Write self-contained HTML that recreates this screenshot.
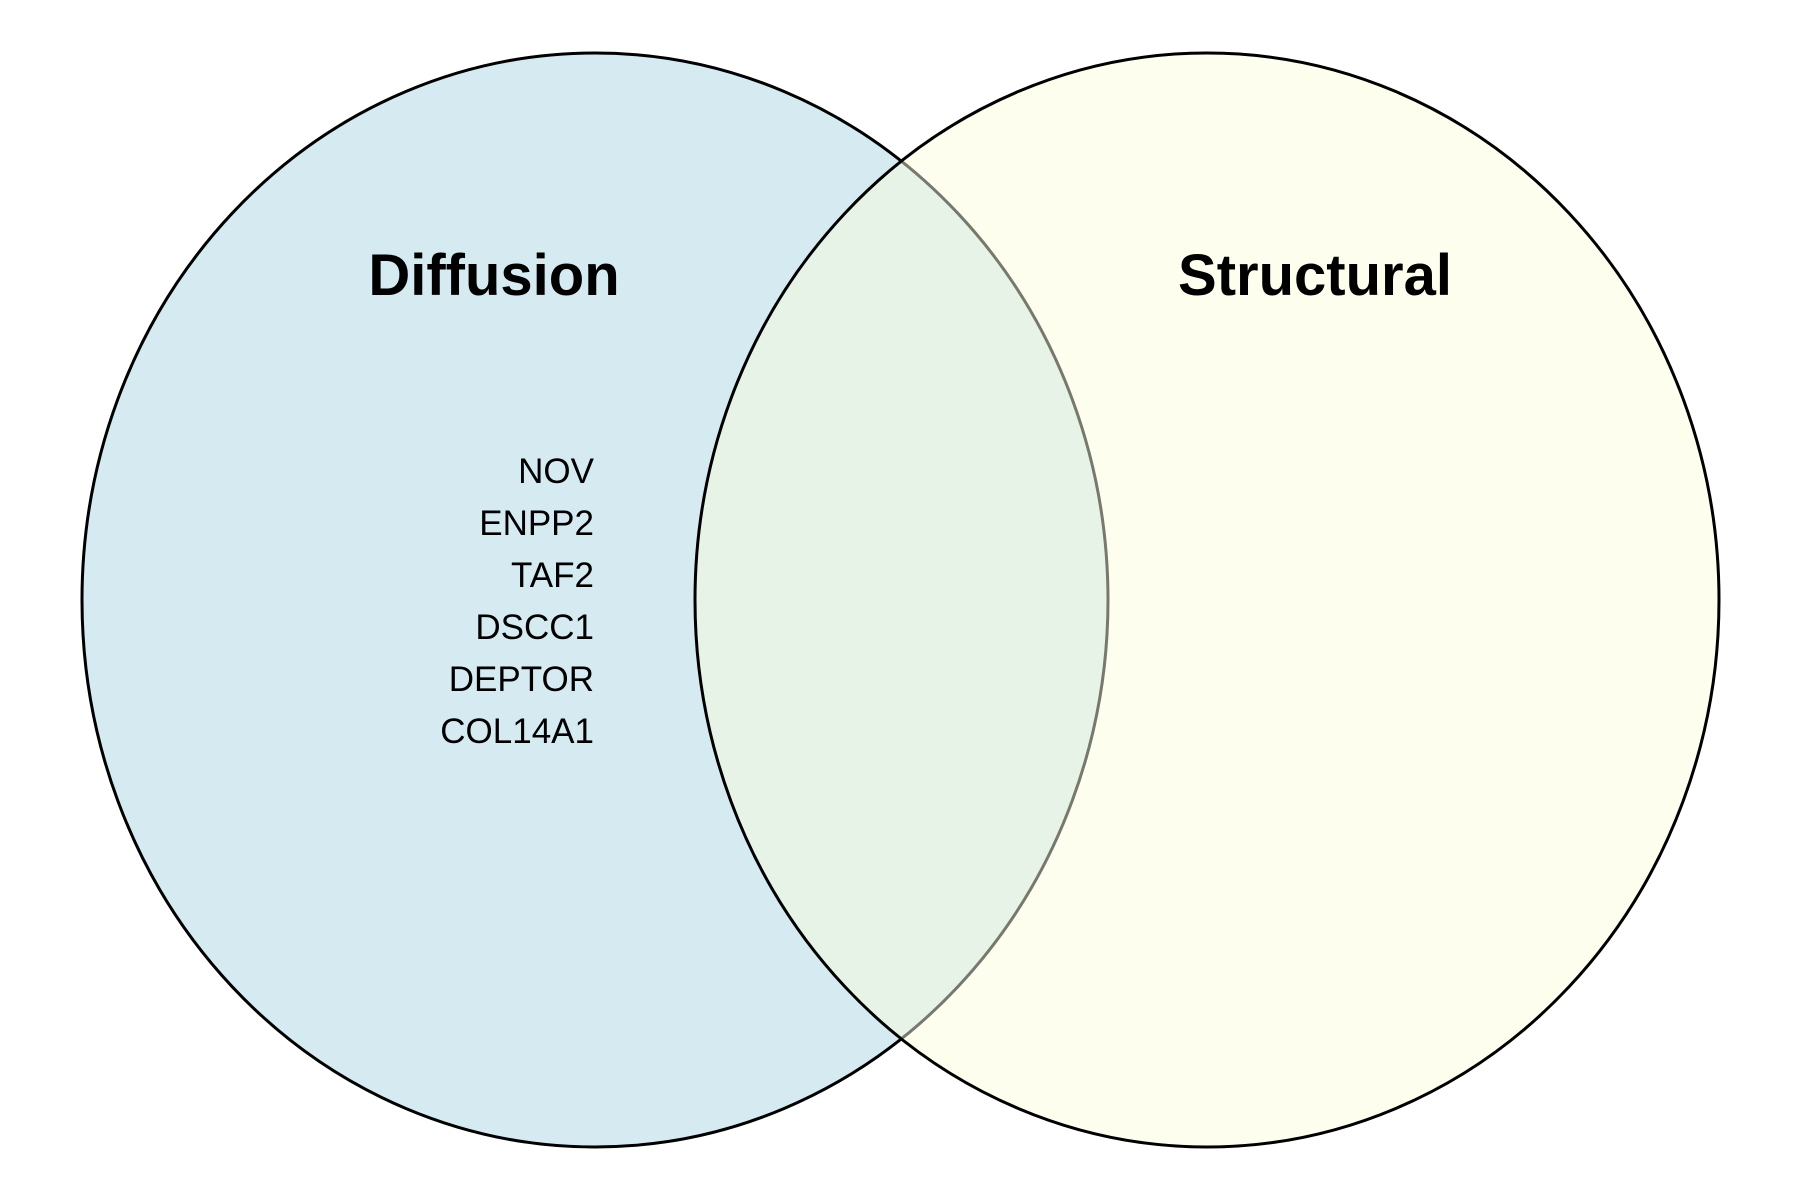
<!DOCTYPE html>
<html><head><meta charset="utf-8"><style>
html,body{margin:0;padding:0;background:#fff;}
svg{display:block;}
</style></head><body>
<svg width="1800" height="1200" viewBox="0 0 1800 1200" xmlns="http://www.w3.org/2000/svg">
<defs>
<clipPath id="cr"><ellipse cx="1207" cy="600" rx="512" ry="547"/></clipPath>
</defs>
<ellipse cx="595" cy="600" rx="513" ry="547" fill="#d6eaf1" stroke="#000" stroke-width="3"/>
<ellipse cx="1207" cy="600" rx="512" ry="547" fill="#fdfeee"/>
<ellipse cx="595" cy="600" rx="513" ry="547" fill="#e8f3e8" stroke="#77786e" stroke-width="3" clip-path="url(#cr)"/>
<ellipse cx="1207" cy="600" rx="512" ry="547" fill="none" stroke="#000" stroke-width="3"/>
<g font-family="Liberation Sans, sans-serif" font-weight="bold" font-size="58" text-anchor="middle" fill="#000">
<text x="494" y="295">Diffusion</text>
<text x="1315" y="295">Structural</text>
</g>
<g font-family="Liberation Sans, sans-serif" font-size="35" text-anchor="end" fill="#000">
<text x="594" y="483">NOV</text>
<text x="594" y="535">ENPP2</text>
<text x="594" y="587">TAF2</text>
<text x="594" y="639">DSCC1</text>
<text x="594" y="691">DEPTOR</text>
<text x="594" y="743">COL14A1</text>
</g>
</svg>
</body></html>
